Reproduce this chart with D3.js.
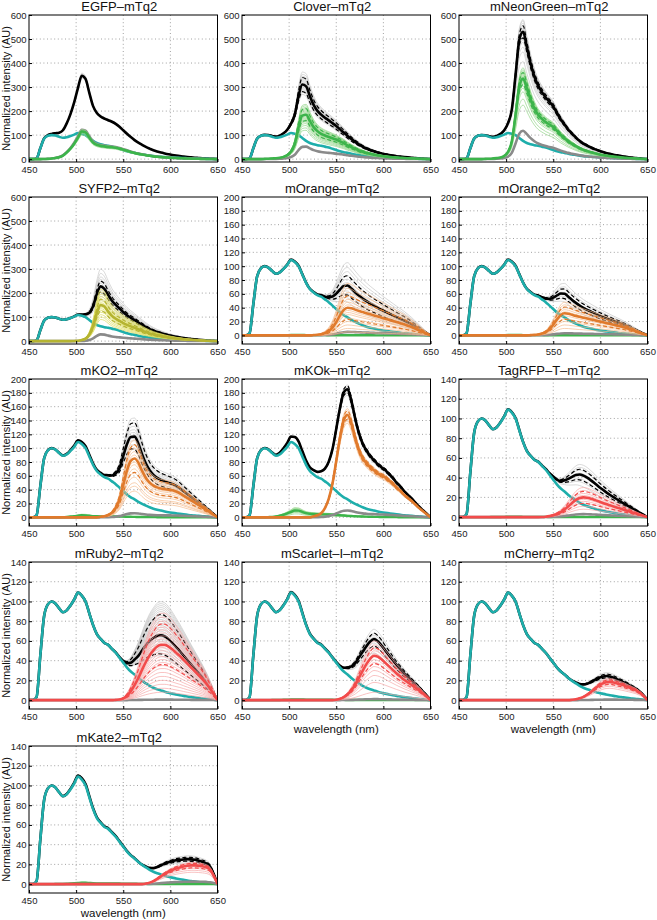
<!DOCTYPE html>
<html><head><meta charset="utf-8">
<script src="https://cdn.jsdelivr.net/npm/d3@7"></script>
<style>body{margin:0;background:#fff}svg{display:block;font-family:"Liberation Sans",Arial,sans-serif}</style>
</head><body><svg id="chart" width="657" height="920"></svg>
<script>
// ---------- data ----------
const wavelengths = [450,454,458,462,466,470,474,478,482,486,490,494,498,502,506,510,514,518,522,526,530,534,538,542,546,550,554,558,562,566,570,574,578,582,586,590,594,598,602,606,610,614,618,622,626,630,634,638,642,646,650];
const xTicks = [450,500,550,600,650];
const yTicks600 = [0,100,200,300,400,500,600];
const yTicks200 = [0,20,40,60,80,100,120,140,160,180,200];
const yTicks140 = [0,20,40,60,80,100,120,140];

// donor mTq2 emission (AU)
const donorMTq2 = [0,0,3,45,85,97,100,98,93,89, 91,96,102,109,106,100,88,76,67,62, 58,56,52,48,43,38,33,29,26,22.5, 19.5,17,14.5,12.5,11,9.8,8.6,7.5,6.6,5.8, 5,4.3,3.7,3.1,2.6,2.1,1.6,1.2,0.8,0.4, 0];
// acceptor emission shapes (% of peak)
const shapeEGFP = [0,0,0,0,0.5,1,2,4,7,13, 24,38,56,78,100,97,78,60,52,48, 46,44,43,41,38,34,30,26,22,19, 16.5,14,12,10,8.5,7.2,6.2,5.3,4.5,3.8, 3.2,2.7,2.2,1.8,1.4,1.1,0.8,0.6,0.4,0.2, 0];
const shapeClover = [0,0,0,0,0,0,0.5,1,1.5,2,3, 5,9,17,35,72,98,100,86,72,63, 57,53,50,47,44,40,36,31,27,23, 19.5,16.5,14,12,10,8.5,7.2,6,5,4.2, 3.5,3,2.5,2,1.6,1.2,0.9,0.6,0.3,0];
const shapeMNG = [0,0,0,0,0,0,0,0.3,0.5,0.8,1.2, 2,4,9,22,55,90,100,88,74,63, 55,50,46,43,40,35,30,26,22,19, 16,13.5,11.5,10,8.5,7.3,6.2,5.2,4.4,3.7, 3.1,2.6,2.1,1.7,1.3,1,0.7,0.5,0.2,0];
const shapeSYFP2 = [0,0,0,0,0,0,0,0,0,0,0,0, 0.5,1,3,7,18,42,78,100,96,82, 70,62,56,50,45,41,37,33,29,25, 21.5,18.5,16,14,12,10.3,8.8,7.4,6.2,5.2, 4.3,3.6,2.9,2.3,1.7,1.2,0.8,0.4,0];
const shapeMOrange = [0,0,0,0,0,0,0,0,0,0,0,0,0,0,0,0,0,0,0, 1,2,4,8,15,28,48,72,92,100, 98,93,88,84,80,76,72,68,64,60, 56,52,48,44,40,35,30,24,18,12, 6,0];
const shapeMKO2 = [0,0,0,0,0,0,0,0,0,0,0,0,0,0,0,0,0,0,0, 1,2,4,8,16,30,55,80,96,100, 93,79,67,59,54,51,49,48,47,46, 44,41,37,33,29,25,21,17,13,9, 4.5,0];
const shapeMKOk = [0,0,0,0,0,0,0,0,0,0,0,0,0,0,0,0,0,0,0, 1,2,4,9,18,33,55,78,95,100, 92,78,66,58,53,49,46,43,41,39, 36,33,29,26,22,19,16,12.5,9,6, 3,0];
const shapeTagRFPT = [0,0,0,0,0,0,0,0,0,0,0,0,0,0,0,0,0,0,0,0,0,0, 0.5,2,5,10,16,25,38,55,72,87, 97,100,98,93,87,80,73,66,60,54, 48,42,36,30,24,18,12,6,0];
const shapeMRuby2 = [0,0,0,0,0,0,0,0,0,0,0,0,0,0,0,0,0,0,0,0,0,0,0, 0.5,1,3,8,16,27,40,55,69,81, 90,97,100,100,97,92,86,80,73,66, 59,52,45,38,30,21,11,0];
const shapeMScarlet = [0,0,0,0,0,0,0,0,0,0,0,0,0,0,0,0,0,0,0,0,0,0,0,0,0, 1,3,7,13,22,34,50,66,81,93, 100,98,92,84,76,68,60,53,46,40, 34,28,22,15,8,0];
const shapeMCherry = [0,0,0,0,0,0,0,0,0,0,0,0,0,0,0,0,0,0,0,0,0,0,0,0,0,0,0,0,0,0, 2,5,10,18,30,45,62,78,90,98, 100,97,91,85,78,70,62,53,40,22, 0];
const shapeMKate2 = [0,0,0,0,0,0,0,0,0,0,0,0,0,0,0,0,0,0,0,0,0,0,0,0,0,0,0,0,0,0,0, 3,8,16,28,42,55,66,75,83,89, 94,98,100,100,98,95,90,78,45,0];

const titles = ["EGFP\u2013mTq2","Clover\u2013mTq2","mNeonGreen\u2013mTq2","SYFP2\u2013mTq2","mOrange\u2013mTq2","mOrange2\u2013mTq2","mKO2\u2013mTq2","mKOk\u2013mTq2","TagRFP\u2013T\u2013mTq2","mRuby2\u2013mTq2","mScarlet\u2013I\u2013mTq2","mCherry\u2013mTq2","mKate2\u2013mTq2"];
const yMaxes = [600,600,600,600,200,200,200,200,140,140,140,140,140];
const yMins = [-12,-12,-12,-12,-12.5,-12.5,-12.5,-12.5,-9,-9,-9,-9,-9];
const acceptorShapes = [shapeEGFP,shapeClover,shapeMNG,shapeSYFP2,shapeMOrange,shapeMOrange,shapeMKO2,shapeMKOk,shapeTagRFPT,shapeMRuby2,shapeMScarlet,shapeMCherry,shapeMKate2];
const acceptorKind = ["green","green","green","yellow","orange","orange","orange","orange","red","red","red","red","red"];
// black (measured) = donor + extra; peak of extra
const blackExtraMean = [241,227,454,166,46,34,90,157,29.5,56,52,19,22];
const blackRepExtras = [
  [232,236,239,244,248,252],
  [185,195,200,205,210,215,220,225,230,235,240,245,250,255,262,270,280],
  [330,370,390,410,420,430,440,445,450,455,460,465,470,480,490,500,505],
  [110,125,140,150,158,165,170,178,185,195,205,220,238],
  [22,28,34,38,42,46,50,55,60,66,72,79],
  [22,26,30,33,36,40,44,49],
  [72,78,84,88,92,96,100,105,110,117],
  [148,151,154,157,160,163],
  [18,22,25,28,31,34,37,40],
  [35,38,41,44,47,50,52,54,56,58,60,62,64,66,68,70,72,74,76,78,80,82,84,86,88,90],
  [38,42,45,48,50,52,54,56,58,62],
  [15,16.5,18,19,20,21,22.5],
  [18,19.5,21,22,23,24,25.5]
];
const blackDashExtras = [[],[197,257],[429,479],[143,188],[32,60],[27,41],[72,110],[152,162],[24,35],[37,77],[45,58],[17,21],[20,24]];
const acceptorMean = [115,185,335,150,40,32,85,148,20,56,45,18.5,19];
const acceptorReps = [
  [100,105,108,110,112,114,116,118,120,124],
  [120,130,140,148,155,160,165,170,175,180,185,190,195,200,205,210,215,222,228],
  [225,250,280,295,305,315,320,325,330,335,340,345,350,355,360,365,372,380],
  [90,100,110,120,128,135,142,148,155,160,168,175,185,195,205,215],
  [5,10,15,20,25,30,33,36,40,44,48,52,57,62,68,75],
  [10,15,20,24,28,31,34,37,40,44,48],
  [38,45,50,58,64,70,76,80,85,90,95,100,105,112],
  [136,139,142,145,148,151,154,157],
  [8,11,14,16,18,20,22,24,27,30],
  [8,12,16,20,24,28,32,35,38,41,44,47,50,53,56,59,62,65,68,71,74,77,80,84,88],
  [8,18,25,30,34,38,41,44,47,50,53,56,60],
  [12,14,15.5,17,18,19,20,21,22],
  [12,14,16,17.5,19,20,21,22]
];
const acceptorDash = [[],[160,210],[310,360],[125,175],[23,57],[23,41],[65,105],[142,154],[14,26],[36,77],[37,53],[16,20.5],[16.5,21]];
const grayComponent = [122,52,118,28,5,3,6,10,3,0.5,1,0.5,2.5];
const greenLeak = [null,null,null,null,0.6,0.6,3,10,0.5,null,0.8,null,1.5];
const greenLeakReps = [[],[],[],[],[],[],[1.5,2.5,3.5,4.5],[5,7,8,9,11,12,13,14],[],[],[],[],[0.8,2]];

// ---------- styles / layout ----------
const palette = {
  green:{thick:"#3cb44b",thin:"#93d68a"},
  yellow:{thick:"#b5b431",thin:"#dcdc5c"},
  orange:{thick:"#e07a2c",thin:"#f5bc8e"},
  red:{thick:"#f24b4b",thin:"#f7a9a9"}
};
const cyan="#1eaeab", grayRep="#c9c9c9", grayComp="#8a8a8a";
const colX=[29,242,459], rowY=[15,197,379,562,746], PW=188.5, PH=147;

const svg=d3.select("#chart");
const defs=svg.append("defs");

titles.forEach((title,i)=>{
  const x0=colX[i%3], y0=rowY[Math.floor(i/3)];
  const x=d3.scaleLinear().domain([450,650]).range([x0,x0+PW]);
  const y=d3.scaleLinear().domain([yMins[i],yMaxes[i]]).range([y0+PH,y0]);
  const yTicks = yMaxes[i]===600?yTicks600:(yMaxes[i]===200?yTicks200:yTicks140);
  defs.append("clipPath").attr("id","clip"+i).append("rect").attr("x",x0).attr("y",y0).attr("width",PW).attr("height",PH);
  const g=svg.append("g");
  // grid
  const grid=g.append("g").attr("stroke","#8a8a8a").attr("stroke-width",0.8).attr("stroke-dasharray","1,2.6");
  xTicks.filter(t=>t>450&&t<650).forEach(t=>grid.append("line").attr("x1",x(t)).attr("x2",x(t)).attr("y1",y0).attr("y2",y0+PH));
  yTicks.filter(t=>t<yMaxes[i]).forEach(t=>grid.append("line").attr("x1",x0).attr("x2",x0+PW).attr("y1",y(t)).attr("y2",y(t)));

  const shape=acceptorShapes[i];
  const gAmp=greenLeak[i]||0;
  const line=d3.line().x((d,k)=>x(wavelengths[k])).y(d=>y(d)).curve(d3.curveMonotoneX);
  const blackOf=e=>donorMTq2.map((v,k)=>v+e*shape[k]/100+gAmp*shapeEGFP[k]/100);
  const accOf=a=>shape.map(v=>a*v/100);
  const plot=g.append("g").attr("clip-path","url(#clip"+i+")").attr("fill","none").attr("stroke-linejoin","round");
  const draw=(data,color,w,dash)=>{const p=plot.append("path").attr("d",line(data)).attr("stroke",color).attr("stroke-width",w); if(dash)p.attr("stroke-dasharray",dash);};

  blackRepExtras[i].forEach(e=>draw(blackOf(e),grayRep,0.7));
  blackDashExtras[i].forEach(e=>draw(blackOf(e),"#000",1.2,"4,2.5"));
  draw(blackOf(blackExtraMean[i]),"#000",2.6);
  draw(donorMTq2,cyan,2.6);
  if(greenLeak[i]!==null){
    greenLeakReps[i].forEach(a=>draw(shapeEGFP.map(v=>a*v/100),palette.green.thin,0.7));
    draw(shapeEGFP.map(v=>gAmp*v/100),palette.green.thick,2.4);
  }
  draw(accOf(grayComponent[i]),grayComp,2.6);
  const pal=palette[acceptorKind[i]];
  acceptorReps[i].forEach(a=>draw(accOf(a),pal.thin,0.7));
  acceptorDash[i].forEach(a=>draw(accOf(a),pal.thick,1.2,"4,2.5"));
  draw(accOf(acceptorMean[i]),pal.thick,2.6);

  // axes
  const ax=g.append("g").attr("transform",`translate(0,${y0+PH})`)
    .call(d3.axisBottom(x).tickValues(xTicks).tickSizeInner(-3).tickSizeOuter(0).tickPadding(4.5).tickFormat(d3.format("d")));
  const ay=g.append("g").attr("transform",`translate(${x0},0)`)
    .call(d3.axisLeft(y).tickValues(yTicks).tickSizeInner(-3).tickSizeOuter(0).tickPadding(2.5).tickFormat(d3.format("d")));
  [ax,ay].forEach(a=>{a.select(".domain").remove();a.selectAll("text").attr("font-size",9.5).attr("fill","#222").attr("font-family","Liberation Sans, Arial, sans-serif");a.selectAll("line").attr("stroke","#000");});
  g.append("rect").attr("x",x0).attr("y",y0).attr("width",PW).attr("height",PH).attr("fill","none").attr("stroke","#000").attr("stroke-width",1);
  // title
  g.append("text").attr("x",x0+PW/2-4).attr("y",y0-4).attr("text-anchor","middle").attr("font-size",13).attr("fill","#111").text(title);
  if(i%3===0){
    g.append("text").attr("transform",`translate(9.5,${y0+PH/2}) rotate(-90)`).attr("text-anchor","middle").attr("font-size",11).attr("fill","#111").text("Normalized intensity (AU)");
  }
  if(i>=10){
    g.append("text").attr("x",x0+PW/2).attr("y",y0+PH+24).attr("text-anchor","middle").attr("font-size",11.5).attr("fill","#111").text("wavelength (nm)");
  }
});
</script></body></html>
